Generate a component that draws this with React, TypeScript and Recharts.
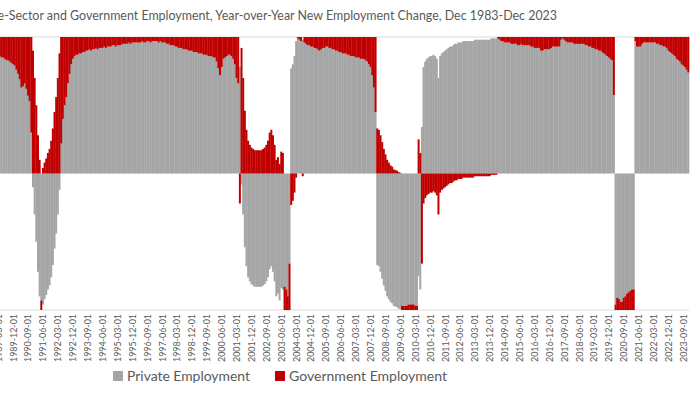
import { BarChart, Bar, XAxis, YAxis, CartesianGrid, Legend } from 'recharts';

const GREY = '#A5A5A5';
const RED = '#C00000';
const TEXT = '#595959';
const FONT = 'Lato, "Open Sans", sans-serif';

const TITLE = 'Private-Sector and Government Employment, Year-over-Year New Employment Change, Dec 1983-Dec 2023';

// share of the 100% stacked column (Dec 1983, then Jan..Dec per year)
const privateShare: number[] = [
  0.9, // 1983-12
  0.92, 0.93, 0.93, 0.93, 0.94, 0.93, 0.93, 0.92, 0.92, 0.91, 0.91, 0.9, // 1984
  0.9, 0.89, 0.88, 0.88, 0.87, 0.87, 0.86, 0.86, 0.85, 0.85, 0.84, 0.84, // 1985
  0.83, 0.83, 0.82, 0.82, 0.81, 0.81, 0.8, 0.8, 0.81, 0.81, 0.82, 0.82, // 1986
  0.83, 0.83, 0.84, 0.85, 0.85, 0.86, 0.86, 0.87, 0.87, 0.87, 0.88, 0.88, // 1987
  0.88, 0.88, 0.87, 0.87, 0.87, 0.86, 0.86, 0.86, 0.86, 0.86, 0.86, 0.86, // 1988
  0.86, 0.86, 0.86, 0.86, 0.85, 0.85, 0.84, 0.83, 0.83, 0.82, 0.81, 0.8, // 1989
  0.79, 0.76, 0.73, 0.69, 0.63, 0.64, 0.66, 0.62, 0.57, 0.53, 0.3, -0.1, // 1990
  -0.3, -0.5, -0.72, -0.9, -0.93, -0.96, -0.92, -0.89, -0.85, -0.82, -0.76, -0.67, // 1991
  -0.55, -0.44, -0.3, -0.12, 0.22, 0.4, 0.5, 0.56, 0.66, 0.73, 0.8, 0.84, // 1992
  0.86, 0.87, 0.87, 0.88, 0.88, 0.89, 0.89, 0.9, 0.9, 0.91, 0.9, 0.91, // 1993
  0.91, 0.92, 0.91, 0.92, 0.92, 0.92, 0.93, 0.92, 0.93, 0.93, 0.93, 0.94, // 1994
  0.94, 0.93, 0.94, 0.94, 0.94, 0.95, 0.95, 0.95, 0.95, 0.96, 0.95, 0.96, // 1995
  0.96, 0.96, 0.96, 0.96, 0.96, 0.97, 0.96, 0.96, 0.97, 0.97, 0.96, 0.97, // 1996
  0.97, 0.97, 0.97, 0.96, 0.97, 0.96, 0.96, 0.96, 0.95, 0.95, 0.94, 0.94, // 1997
  0.94, 0.93, 0.93, 0.92, 0.92, 0.92, 0.91, 0.91, 0.91, 0.9, 0.9, 0.9, // 1998
  0.89, 0.89, 0.89, 0.88, 0.88, 0.88, 0.87, 0.87, 0.87, 0.86, 0.86, 0.86, // 1999
  0.85, 0.85, 0.82, 0.77, 0.72, 0.78, 0.84, 0.85, 0.86, 0.87, 0.87, 0.86, // 2000
  0.84, 0.8, 0.7, 0.66, 0.78, -0.08, -0.3, -0.54, -0.68, -0.76, -0.79, -0.81, // 2001
  -0.82, -0.83, -0.83, -0.83, -0.83, -0.83, -0.82, -0.81, -0.79, -0.76, -0.7, -0.68, // 2002
  -0.72, -0.79, -0.9, -0.88, -0.93, -0.84, -0.85, -0.83, -0.85, -0.9, -0.66, 0.77, // 2003
  0.8, 0.86, 0.97, 0.99, 0.98, 0.97, 0.98, 0.96, 0.95, 0.94, 0.94, 0.93, // 2004
  0.93, 0.92, 0.92, 0.91, 0.9, 0.91, 0.92, 0.92, 0.93, 0.93, 0.92, 0.92, // 2005
  0.91, 0.91, 0.9, 0.9, 0.89, 0.89, 0.88, 0.88, 0.88, 0.87, 0.87, 0.86, // 2006
  0.86, 0.86, 0.85, 0.85, 0.85, 0.84, 0.84, 0.84, 0.83, 0.82, 0.8, 0.78, // 2007
  0.72, 0.63, 0.45, -0.67, -0.68, -0.72, -0.77, -0.82, -0.86, -0.9, -0.92, -0.94, // 2008
  -0.95, -0.97, -0.975, -0.98, -0.99, -0.995, -0.97, -0.97, -0.97, -0.97, -0.96, -0.96, // 2009
  -0.96, -0.96, -0.97, -0.97, -0.75, -0.85, 0.34, 0.78, 0.82, 0.84, 0.85, 0.86, // 2010
  0.86, 0.87, 0.86, 0.84, 0.7, 0.86, 0.88, 0.89, 0.9, 0.91, 0.92, 0.93, // 2011
  0.93, 0.94, 0.95, 0.95, 0.96, 0.96, 0.96, 0.97, 0.97, 0.97, 0.97, 0.97, // 2012
  0.97, 0.97, 0.98, 0.98, 0.98, 0.98, 0.98, 0.98, 0.98, 0.98, 0.98, 0.98, // 2013
  0.99, 0.99, 0.99, 0.99, 0.99, 0.98, 0.97, 0.97, 0.96, 0.96, 0.96, 0.96, // 2014
  0.95, 0.95, 0.95, 0.95, 0.94, 0.94, 0.95, 0.94, 0.94, 0.94, 0.94, 0.94, // 2015
  0.93, 0.93, 0.92, 0.92, 0.92, 0.92, 0.9, 0.9, 0.91, 0.91, 0.91, 0.91, // 2016
  0.92, 0.93, 0.93, 0.93, 0.93, 0.93, 0.98, 0.99, 0.98, 0.97, 0.96, 0.96, // 2017
  0.96, 0.96, 0.95, 0.95, 0.95, 0.95, 0.95, 0.95, 0.95, 0.94, 0.94, 0.93, // 2018
  0.93, 0.92, 0.92, 0.91, 0.91, 0.9, 0.9, 0.89, 0.88, 0.87, 0.86, 0.85, // 2019
  0.84, 0.83, 0.575, -0.96, -0.91, -0.92, -0.94, -0.94, -0.91, -0.9, -0.88, -0.87, // 2020
  -0.86, -0.85, -0.85, 0.97, 0.93, 0.93, 0.93, 0.95, 0.96, 0.96, 0.96, 0.96, // 2021
  0.96, 0.96, 0.96, 0.96, 0.95, 0.95, 0.94, 0.94, 0.93, 0.93, 0.92, 0.9, // 2022
  0.89, 0.88, 0.87, 0.86, 0.84, 0.83, 0.82, 0.8, 0.79, 0.78, 0.76, 0.74, // 2023
];

const govShare: number[] = [
  0.1, // 1983-12
  0.08, 0.07, 0.07, 0.07, 0.06, 0.07, 0.07, 0.08, 0.08, 0.09, 0.09, 0.1, // 1984
  0.1, 0.11, 0.12, 0.12, 0.13, 0.13, 0.14, 0.14, 0.15, 0.15, 0.16, 0.16, // 1985
  0.17, 0.17, 0.18, 0.18, 0.19, 0.19, 0.2, 0.2, 0.19, 0.19, 0.18, 0.18, // 1986
  0.17, 0.17, 0.16, 0.15, 0.15, 0.14, 0.14, 0.13, 0.13, 0.13, 0.12, 0.12, // 1987
  0.12, 0.12, 0.13, 0.13, 0.13, 0.14, 0.14, 0.14, 0.14, 0.14, 0.14, 0.14, // 1988
  0.14, 0.14, 0.14, 0.14, 0.15, 0.15, 0.16, 0.17, 0.17, 0.18, 0.19, 0.2, // 1989
  0.21, 0.24, 0.27, 0.31, 0.37, 0.36, 0.34, 0.38, 0.43, 0.47, 0.7, 0.9, // 1990
  0.7, 0.5, 0.28, 0.1, -0.07, 0.04, 0.08, 0.11, 0.15, 0.18, 0.24, 0.33, // 1991
  0.45, 0.56, 0.7, 0.88, 0.78, 0.6, 0.5, 0.44, 0.34, 0.27, 0.2, 0.16, // 1992
  0.14, 0.13, 0.13, 0.12, 0.12, 0.11, 0.11, 0.1, 0.1, 0.09, 0.1, 0.09, // 1993
  0.09, 0.08, 0.09, 0.08, 0.08, 0.08, 0.07, 0.08, 0.07, 0.07, 0.07, 0.06, // 1994
  0.06, 0.07, 0.06, 0.06, 0.06, 0.05, 0.05, 0.05, 0.05, 0.04, 0.05, 0.04, // 1995
  0.04, 0.04, 0.04, 0.04, 0.04, 0.03, 0.04, 0.04, 0.03, 0.03, 0.04, 0.03, // 1996
  0.03, 0.03, 0.03, 0.04, 0.03, 0.04, 0.04, 0.04, 0.05, 0.05, 0.06, 0.06, // 1997
  0.06, 0.07, 0.07, 0.08, 0.08, 0.08, 0.09, 0.09, 0.09, 0.1, 0.1, 0.1, // 1998
  0.11, 0.11, 0.11, 0.12, 0.12, 0.12, 0.13, 0.13, 0.13, 0.14, 0.14, 0.14, // 1999
  0.15, 0.15, 0.18, 0.23, 0.28, 0.22, 0.16, 0.15, 0.14, 0.13, 0.13, 0.14, // 2000
  0.16, 0.2, 0.3, 0.34, -0.22, 0.92, 0.7, 0.46, 0.32, 0.24, 0.21, 0.19, // 2001
  0.18, 0.17, 0.17, 0.17, 0.17, 0.17, 0.18, 0.19, 0.21, 0.24, 0.3, 0.32, // 2002
  0.28, 0.21, 0.1, 0.12, 0.07, 0.16, 0.15, -0.17, -0.15, -0.1, -0.34, -0.23, // 2003
  -0.2, -0.14, -0.03, 0.01, 0.02, 0.03, -0.02, 0.04, 0.05, 0.06, 0.06, 0.07, // 2004
  0.07, 0.08, 0.08, 0.09, 0.1, 0.09, 0.08, 0.08, 0.07, 0.07, 0.08, 0.08, // 2005
  0.09, 0.09, 0.1, 0.1, 0.11, 0.11, 0.12, 0.12, 0.12, 0.13, 0.13, 0.14, // 2006
  0.14, 0.14, 0.15, 0.15, 0.15, 0.16, 0.16, 0.16, 0.17, 0.18, 0.2, 0.22, // 2007
  0.28, 0.37, 0.55, 0.33, 0.32, 0.28, 0.23, 0.18, 0.14, 0.1, 0.08, 0.06, // 2008
  0.05, 0.03, 0.025, 0.02, 0.01, 0.005, -0.03, -0.03, -0.03, -0.03, -0.04, -0.04, // 2009
  -0.04, -0.04, -0.03, -0.03, 0.25, 0.15, -0.66, -0.22, -0.18, -0.16, -0.15, -0.14, // 2010
  -0.14, -0.13, -0.14, -0.16, -0.3, -0.14, -0.12, -0.11, -0.1, -0.09, -0.08, -0.07, // 2011
  -0.07, -0.06, -0.05, -0.05, -0.04, -0.04, -0.04, -0.03, -0.03, -0.03, -0.03, -0.03, // 2012
  -0.03, -0.03, -0.02, -0.02, -0.02, -0.02, -0.02, -0.02, -0.02, -0.02, -0.02, -0.02, // 2013
  -0.01, -0.01, -0.01, -0.01, 0.01, 0.02, 0.03, 0.03, 0.04, 0.04, 0.04, 0.04, // 2014
  0.05, 0.05, 0.05, 0.05, 0.06, 0.06, 0.05, 0.06, 0.06, 0.06, 0.06, 0.06, // 2015
  0.07, 0.07, 0.08, 0.08, 0.08, 0.08, 0.1, 0.1, 0.09, 0.09, 0.09, 0.09, // 2016
  0.08, 0.07, 0.07, 0.07, 0.07, 0.07, 0.02, 0.01, 0.02, 0.03, 0.04, 0.04, // 2017
  0.04, 0.04, 0.05, 0.05, 0.05, 0.05, 0.05, 0.05, 0.05, 0.06, 0.06, 0.07, // 2018
  0.07, 0.08, 0.08, 0.09, 0.09, 0.1, 0.1, 0.11, 0.12, 0.13, 0.14, 0.15, // 2019
  0.16, 0.17, 0.425, -0.04, -0.09, -0.08, -0.06, -0.06, -0.09, -0.1, -0.12, -0.13, // 2020
  -0.14, -0.15, -0.15, 0.03, 0.07, 0.07, 0.07, 0.05, 0.04, 0.04, 0.04, 0.04, // 2021
  0.04, 0.04, 0.04, 0.04, 0.05, 0.05, 0.06, 0.06, 0.07, 0.07, 0.08, 0.1, // 2022
  0.11, 0.12, 0.13, 0.14, 0.16, 0.17, 0.18, 0.2, 0.21, 0.22, 0.24, 0.26, // 2023
];

const yTicks = [-1, -0.8, -0.6, -0.4, -0.2, 0, 0.2, 0.4, 0.6, 0.8, 1];

// monthly categories from Dec 1983
const months: string[] = privateShare.map((_, i) => {
  const t = 1983 * 12 + 11 + i;
  const y = Math.floor(t / 12);
  const m = (t % 12) + 1;
  return `${y}-${String(m).padStart(2, '0')}-01`;
});

const data = months.map((month, i) => ({ month, priv: privateShare[i], gov: govShare[i] }));

// chart is shifted left so the early years sit outside the window, like the cropped original
const SHIFT = 107;

function MonthTick({ x, y, payload }: any) {
  if (x - SHIFT < -8) return <g />;
  return (
    <g transform={`translate(${x},${y})`}>
      <text
        transform="rotate(-90)"
        textAnchor="end"
        dy="0.36em"
        fontSize={10}
        fontFamily={FONT}
        fill={TEXT}
        textLength={48}
        lengthAdjust="spacingAndGlyphs"
      >
        {payload.value}
      </text>
    </g>
  );
}

function LegendBox() {
  return (
    <svg width={420} height={20} style={{ display: 'block' }}>
      <rect x={0} y={5} width={10} height={10} fill={GREY} />
      <text x={14} y={14.5} fontSize={13.5} fontFamily={FONT} fill={TEXT} textLength={123} lengthAdjust="spacingAndGlyphs">
        Private Employment
      </text>
      <rect x={162} y={5} width={10} height={10} fill={RED} />
      <text x={176} y={14.5} fontSize={13.5} fontFamily={FONT} fill={TEXT} textLength={158} lengthAdjust="spacingAndGlyphs">
        Government Employment
      </text>
    </svg>
  );
}

export default function App() {
  return (
    <div style={{ position: 'absolute', left: 0, top: 0, width: 700, height: 394, overflow: 'hidden', background: '#fff', fontFamily: FONT }}>
      <svg width={700} height={30} style={{ position: 'absolute', left: 0, top: 0 }}>
        <text x={-34} y={20} fontSize={13.5} fontFamily={FONT} fill={TEXT} textLength={591} lengthAdjust="spacingAndGlyphs">
          {TITLE}
        </text>
      </svg>
      <div style={{ position: 'absolute', left: -SHIFT, top: 0 }}>
        <BarChart
          width={810}
          height={394}
          data={data}
          stackOffset="sign"
          barCategoryGap={0}
          barGap={0}
          margin={{ top: 37, right: 14, bottom: 0, left: 0 }}
        >
          <CartesianGrid vertical={false} stroke="#D9D9D9" />
          <XAxis
            dataKey="month"
            interval={8}
            height={84}
            axisLine={false}
            tickLine={false}
            tickSize={0}
            tickMargin={4}
            tick={<MonthTick />}
          />
          <YAxis domain={[-1, 1]} ticks={yTicks} width={0} axisLine={false} tickLine={false} tick={false} />
          <Bar dataKey="priv" name="Private Employment" stackId="a" fill={GREY} isAnimationActive={false} />
          <Bar dataKey="gov" name="Government Employment" stackId="a" fill={RED} isAnimationActive={false} />
          <Legend
            layout="horizontal"
            verticalAlign="middle"
            align="center"
            wrapperStyle={{ left: 220, top: 366, width: 420, height: 20 }}
            content={() => <LegendBox />}
          />
        </BarChart>
      </div>
    </div>
  );
}
